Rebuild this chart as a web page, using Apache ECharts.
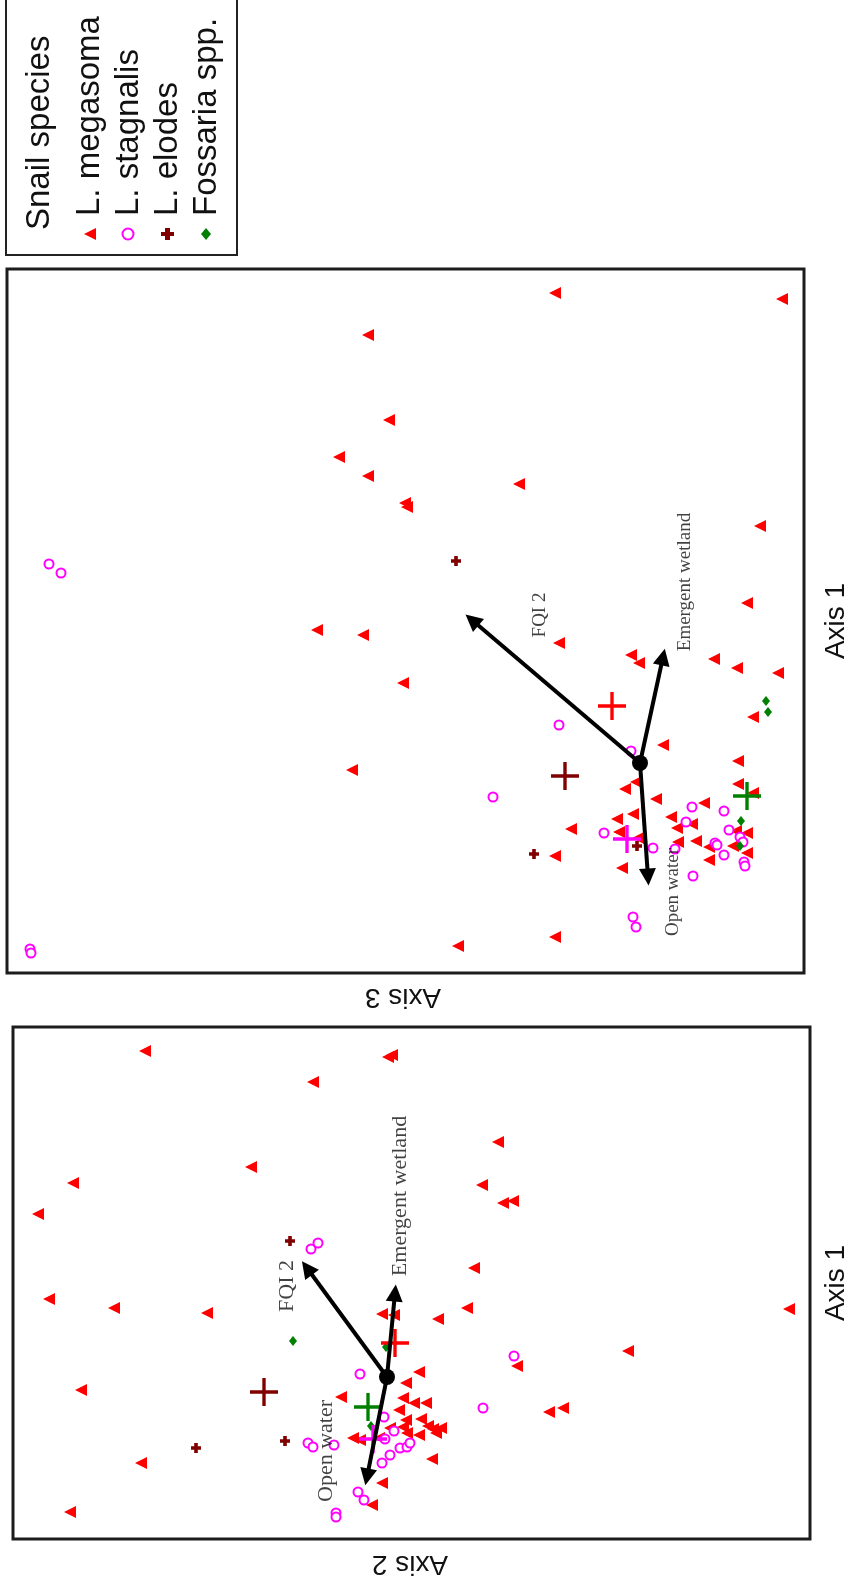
<!DOCTYPE html>
<html>
<head>
<meta charset="utf-8">
<title>Snail species ordination</title>
<script src="https://cdn.jsdelivr.net/npm/echarts@6/dist/echarts.min.js"></script>
<style>
  html, body { margin: 0; padding: 0; background: #fff; }
  #chart { width: 849px; height: 1588px; }
</style>
</head>
<body>
<div id="chart"></div>
<script>
// Species names (legend order)
const speciesNames = ['L. megasoma', 'L. stagnalis', 'L. elodes', 'Fossaria spp.'];
const speciesColors = ['#ff0000', '#ff00ff', '#800000', '#008000'];

// ---- Panel A: Axis 3 (horizontal, increasing leftward) vs Axis 1 (vertical) ----
// points are [Axis 3, Axis 1]
const a3_megasoma = [
  [-1.07, 1.60], [0.81, 1.20], [0.09, 1.08], [0.01, 1.00], [-0.74, 1.04], [-0.97, 0.95],
  [-1.38, 0.90], [-1.13, 0.46], [-0.23, 0.18], [-0.98, 0.02], [0.04, -0.19], [-0.98, -0.21],
  [-1.13, -0.30], [0.15, -0.26], [-0.16, -0.36], [-0.64, -0.40], [0.23, -0.56], [0.07, -0.51],
  [-0.31, -0.54], [-0.52, -0.61], [-0.37, -0.65], [0.69, -0.66], [0.21, -0.69], [-0.96, -0.68],
  [-1.07, -0.70], [0.02, -0.75], [-0.38, -0.79], [-0.56, -0.78], [-0.69, -0.84], [-0.93, -0.83],
  [-1.07, -0.90], [-0.69, -0.97], [0.18, -1.05],
  [0.85, 4.70], [-1.42, 4.64], [2.72, 4.28], [2.51, 3.43], [3.01, 3.06], [2.72, 2.87],
  [1.21, 2.79], [2.35, 2.60], [2.33, 2.56], [-1.20, 2.37], [3.23, 1.33], [2.77, 1.28],
  [2.37, 0.80], [2.88, -0.07], [0.85, -0.93], [1.82, -1.83], [0.85, -1.74]
];
const a3_stagnalis = [
  [0.81, 0.38], [0.09, 0.12], [-0.52, -0.44], [-0.84, -0.48], [-0.46, -0.59], [0.36, -0.70],
  [-0.89, -0.67], [-1.00, -0.74], [-0.13, -0.85], [-0.75, -0.80], [-0.77, -0.82], [-0.35, -0.86],
  [-1.03, -0.79], [-0.84, -0.92], [-1.04, -0.99], [-1.05, -1.03], [-0.53, -1.13],
  [5.91, 1.99], [5.79, 1.90], [6.10, -1.86], [6.09, -1.90], [0.07, -1.54], [0.04, -1.64], [1.47, -0.34]
];
const a3_elodes = [[1.84, 2.02], [0.03, -0.83], [1.06, -0.91]];
const a3_fossaria = [[-1.26, 0.62], [-1.28, 0.51], [-1.01, -0.58], [-1.00, -0.83]];
// group centroids, same order as speciesNames
const a3_centroids = [[0.28, 0.57], [0.13, -0.76], [0.75, -0.13], [-1.07, -0.33]];
// environmental vectors
const vectorNames = ['FQI 2', 'Emergent wetland', 'Open water'];
const a3_vectors = [[1.68, 1.43], [-0.23, 1.06], [-0.08, -1.14]];
const a3_vectorLabelPos = [[1.00, 1.48], [-0.45, 1.81], [-0.33, -1.29]];

// ---- Panel B: Axis 2 (horizontal, increasing leftward) vs Axis 1 (vertical) ----
// points are [Axis 2, Axis 1]
const a2_megasoma = [
  [2.42, 3.26], [0.74, 2.95], [-0.05, 3.22], [-0.01, 3.20], [-1.11, 2.35], [1.36, 2.10],
  [3.14, 1.94], [-0.95, 1.92], [-1.16, 1.74], [-1.26, 1.76], [3.49, 1.63], [-0.87, 1.09],
  [3.38, 0.78], [2.73, 0.69], [1.80, 0.64], [-0.80, 0.69], [0.05, 0.63], [-0.07, 0.62],
  [-0.51, 0.58], [-4.02, 0.68], [-2.41, 0.26], [-1.30, 0.11], [-0.32, 0.05], [-0.19, -0.06],
  [3.06, -0.13], [0.46, -0.20], [-0.16, -0.21], [-0.27, -0.26], [-0.39, -0.26], [-1.62, -0.35],
  [-1.76, -0.31], [-0.12, -0.33], [-0.19, -0.43], [-0.34, -0.42], [-0.41, -0.49], [-0.03, -0.51],
  [-0.16, -0.50], [-0.20, -0.56], [-0.46, -0.52], [-0.54, -0.51], [-0.49, -0.56], [-0.32, -0.58],
  [0.34, -0.61], [0.27, -0.63], [0.08, -0.61], [-0.45, -0.82], [2.46, -0.86], [0.05, -1.06],
  [0.15, -1.28], [3.17, -1.35]
];
const a2_stagnalis = [
  [0.76, 1.28], [0.69, 1.34], [-1.27, 0.21], [0.27, 0.03], [-0.96, -0.31], [0.03, -0.40],
  [-0.07, -0.54], [0.02, -0.62], [0.79, -0.66], [0.74, -0.70], [0.53, -0.68], [-0.13, -0.71],
  [-0.20, -0.70], [-0.23, -0.66], [-0.03, -0.78], [0.05, -0.86], [0.29, -1.15], [0.23, -1.23],
  [0.51, -1.36], [0.51, -1.40]
];
const a2_elodes = [[0.97, 1.36], [1.91, -0.71], [1.02, -0.64]];
const a2_fossaria = [[0.94, 0.36], [0.01, 0.30], [0.16, -0.49]];
const a2_centroids = [[-0.08, 0.34], [0.14, -0.62], [1.23, -0.15], [0.19, -0.30]];
const a2_vectors = [[0.80, 1.09], [-0.08, 0.84], [0.20, -1.00]];
const a2_vectorLabelPos = [[1.00, 0.91], [-0.13, 1.81], [0.61, -0.74]];

// ---- drawing ----
const PLUS_THIN = 'path://M44,0H56V44H100V56H56V100H44V56H0V44H44Z';
const PLUS_BOLD = 'path://M32,0H68V32H100V68H68V100H32V68H0V32H32Z';

function panelSeries(idx, pts, vectors, labelPos, labelFont) {
  const base = { xAxisIndex: idx, yAxisIndex: idx };
  return [
    Object.assign({
      type: 'scatter', name: speciesNames[0], data: pts.megasoma,
      symbol: 'triangle', symbolRotate: 90, symbolSize: 12,
      itemStyle: { color: speciesColors[0], opacity: 1 }, z: 2
    }, base),
    Object.assign({
      type: 'scatter', name: speciesNames[1], data: pts.stagnalis,
      symbol: 'emptyCircle', symbolSize: 9,
      itemStyle: { color: speciesColors[1], borderColor: speciesColors[1], borderWidth: 1.5, opacity: 1 }, z: 3
    }, base),
    Object.assign({
      type: 'scatter', name: speciesNames[2], data: pts.elodes,
      symbol: PLUS_BOLD, symbolSize: 10,
      itemStyle: { color: speciesColors[2], opacity: 1 }, z: 3
    }, base),
    Object.assign({
      type: 'scatter', name: speciesNames[3], data: pts.fossaria,
      symbol: 'diamond', symbolSize: [8, 10],
      itemStyle: { color: speciesColors[3], opacity: 1 }, z: 3
    }, base),
    Object.assign({
      type: 'scatter', name: 'centroids',
      data: pts.centroids.map((c, i) => ({ value: c, itemStyle: { color: speciesColors[i], opacity: 1 } })),
      symbol: PLUS_THIN, symbolSize: 28, z: 4
    }, base),
    Object.assign({
      type: 'lines', coordinateSystem: 'cartesian2d', name: 'vectors',
      symbol: ['none', 'triangle'], symbolSize: 17,
      lineStyle: { color: '#000', width: 4, opacity: 1, curveness: 0 },
      data: vectors.map(v => ({ coords: [[0, 0], v] })), z: 5
    }, base),
    Object.assign({
      type: 'scatter', name: 'origin', data: [[0, 0]],
      symbol: 'circle', symbolSize: 16, itemStyle: { color: '#000', opacity: 1 }, z: 6
    }, base),
    Object.assign({
      type: 'scatter', name: 'vectorLabels',
      data: labelPos.map((p, i) => ({ value: p, name: vectorNames[i] })),
      symbolSize: 1, itemStyle: { color: 'rgba(0,0,0,0)' }, silent: true, z: 7,
      label: {
        show: true, position: 'inside', rotate: 90, formatter: '{b}',
        color: '#111', fontFamily: 'Liberation Serif, Times New Roman, serif', fontSize: labelFont
      }
    }, base)
  ];
}

const series = [].concat(
  panelSeries(0, {
    megasoma: a3_megasoma, stagnalis: a3_stagnalis, elodes: a3_elodes,
    fossaria: a3_fossaria, centroids: a3_centroids
  }, a3_vectors, a3_vectorLabelPos, 19),
  panelSeries(1, {
    megasoma: a2_megasoma, stagnalis: a2_stagnalis, elodes: a2_elodes,
    fossaria: a2_fossaria, centroids: a2_centroids
  }, a2_vectors, a2_vectorLabelPos, 22)
);

const sansFont = 'Liberation Sans, Arial, sans-serif';
function rotText(text, x, y, rot, size, align) {
  return {
    type: 'text', x: x, y: y, rotation: rot, z: 10,
    style: {
      text: text, fill: '#111', font: size + 'px ' + sansFont,
      align: align || 'center', verticalAlign: 'middle',
      textAlign: align || 'center', textVerticalAlign: 'middle'
    }
  };
}

const legendX = [90, 129, 168, 207];
const graphic = [
  // legend box
  { type: 'rect', shape: { x: 6, y: -6, width: 231, height: 261 },
    style: { fill: '#fff', stroke: '#222', lineWidth: 2 }, z: 9 },
  rotText('Snail species', 40, 230, Math.PI / 2, 33, 'left'),
  rotText(speciesNames[0], legendX[0], 216, Math.PI / 2, 33, 'left'),
  rotText(speciesNames[1], legendX[1], 216, Math.PI / 2, 33, 'left'),
  rotText(speciesNames[2], legendX[2], 216, Math.PI / 2, 33, 'left'),
  rotText(speciesNames[3], legendX[3], 216, Math.PI / 2, 33, 'left'),
  { type: 'polygon', z: 10, shape: { points: [[84, 234], [96, 228], [96, 240]] },
    style: { fill: speciesColors[0] } },
  { type: 'circle', z: 10, shape: { cx: 128, cy: 234, r: 5.5 },
    style: { fill: 'none', stroke: speciesColors[1], lineWidth: 2 } },
  { type: 'polygon', z: 10, shape: { points: [[165, 228], [170, 228], [170, 232], [174, 232], [174, 236],
      [170, 236], [170, 240], [165, 240], [165, 236], [161, 236], [161, 232], [165, 232]] },
    style: { fill: speciesColors[2] } },
  { type: 'polygon', z: 10, shape: { points: [[206, 228], [211, 234], [206, 240], [201, 234]] },
    style: { fill: speciesColors[3] } },
  // axis titles
  rotText('Axis 1', 836, 621, Math.PI / 2, 28),
  rotText('Axis 3', 403, 997, Math.PI, 28),
  rotText('Axis 1', 836, 1283, Math.PI / 2, 28),
  rotText('Axis 2', 410, 1564, Math.PI, 28)
];

const option = {
  animation: false,
  backgroundColor: '#fff',
  grid: [
    { left: 7, top: 269, width: 797, height: 704, show: true, borderColor: '#1c1c1c', borderWidth: 3 },
    { left: 13, top: 1027, width: 797, height: 512, show: true, borderColor: '#1c1c1c', borderWidth: 3 }
  ],
  xAxis: [
    { gridIndex: 0, type: 'value', min: -1.64, max: 6.33, inverse: true, show: false },
    { gridIndex: 1, type: 'value', min: -4.23, max: 3.74, inverse: true, show: false }
  ],
  yAxis: [
    { gridIndex: 0, type: 'value', min: -2.10, max: 4.94, show: false },
    { gridIndex: 1, type: 'value', min: -1.62, max: 3.50, show: false }
  ],
  series: series,
  graphic: graphic
};

const chart = echarts.init(document.getElementById('chart'));
chart.setOption(option);
</script>
</body>
</html>
